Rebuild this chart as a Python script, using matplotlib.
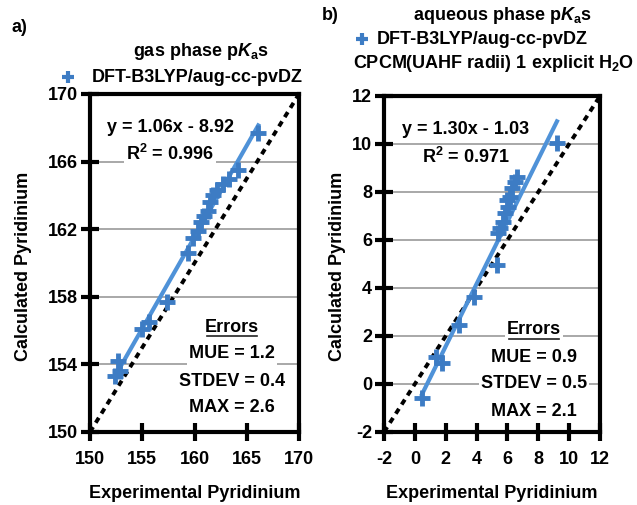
import numpy as np
import matplotlib
matplotlib.use("Agg")
from matplotlib import pyplot as plt

plt.rcParams['font.family'] = ['Liberation Sans', 'DejaVu Sans']
plt.rcParams['font.weight'] = 'bold'
plt.rcParams['axes.unicode_minus'] = False
plt.rcParams['mathtext.fontset'] = 'custom'
plt.rcParams['mathtext.rm'] = 'Liberation Sans:bold'
plt.rcParams['mathtext.it'] = 'Liberation Sans:bold:italic'
plt.rcParams['mathtext.bf'] = 'Liberation Sans:bold'

# panel a: gas phase
exp_a = [152.4, 152.7, 152.9, 155.0, 155.6, 157.4, 159.4, 159.9, 160.3, 160.6,
         160.9, 161.25, 161.5, 161.8, 162.2, 162.7, 163.3, 164.2, 166.1]
calc_a = [153.3, 154.2, 153.6, 156.1, 156.5, 157.7, 160.6, 161.5, 161.9, 162.4,
          162.8, 163.1, 163.6, 164.0, 164.3, 164.7, 165.0, 165.5, 167.7]
err_a = ["MUE = 1.2", "STDEV = 0.4", "MAX = 2.6"]

# panel b: aqueous phase
exp_b = [0.46, 1.37, 1.76, 2.86, 3.83, 5.32, 5.39, 5.52, 5.71, 5.84, 6.04,
         5.97, 6.17, 6.30, 6.49, 6.62, 9.21]
calc_b = [-0.58, 1.13, 0.88, 2.46, 3.63, 4.96, 6.29, 6.50, 6.75, 7.13, 7.38,
          7.67, 7.79, 8.17, 8.42, 8.63, 10.04]
fit_b = (1.30, -1.03)
err_b = ["MUE = 0.9", "STDEV = 0.5", "MAX = 2.1"]

BLUE = '#3d7cc4'
LINEBLUE = '#4f92d8'
W, H = 637, 505
FS = 13

def fx(x):
    return x / W

def fy(y):
    return 1 - y / H

fig = plt.figure(figsize=(W / 100, H / 100), dpi=100)
fig.patch.set_facecolor('white')

box = dict(facecolor='white', edgecolor='none', pad=1.5)


def panel(rect, xs, ys, fit, lim, xticks, yticks, eq, r2, eqpos, errs, errx, erry):
    ax = fig.add_axes(rect)
    ax.set_xlim(lim)
    ax.set_ylim(lim)
    ax.set_xticks(xticks)
    ax.set_yticks(yticks)
    for s in ax.spines.values():
        s.set_linewidth(3)
    ax.tick_params(direction='inout', length=13, width=3, labelsize=FS, pad=2)
    ax.tick_params(axis='x', pad=7)
    ax.yaxis.grid(True, color='#a8a8a8', lw=1.4)
    ax.set_axisbelow(True)
    ax.plot(lim, lim, color='black', lw=2.8, ls=(0, (1.5, 1.3)), zorder=3)
    if fit is None:
        fit = np.polyfit(xs, ys, 1)
    xl = np.array([min(xs), max(xs)])
    ax.plot(xl, fit[0] * xl + fit[1], color=LINEBLUE, lw=3, zorder=4)
    ax.plot(xs, ys, '+', color=BLUE, ms=11, mew=3.5, zorder=5)
    # equation text
    for i, t in enumerate([eq, r2]):
        fig.text(fx(eqpos[0]), fy(eqpos[1] + i * 27), t, ha='center', va='center',
                 fontsize=FS, bbox=box, zorder=10)
    fig.text(fx(errx), fy(erry), 'Errors', ha='center', va='center', fontsize=FS,
             bbox=box, zorder=10)
    fig.add_artist(plt.Line2D([fx(errx - 25), fx(errx + 25)], [fy(erry + 9)] * 2,
                              color='#222222', lw=1.2, zorder=11))
    for i, t in enumerate(errs):
        fig.text(fx(errx), fy(erry + 27 * (i + 1)), t, ha='center', va='center',
                 fontsize=FS, bbox=box, zorder=10)
    return ax


ax1 = panel([fx(90), fy(432), (299 - 90) / W, 338 / H], exp_a, calc_a, None,
            (150, 170), [150, 155, 160, 165, 170], [150, 154, 158, 162, 166, 170],
            'y = 1.06x - 8.92', 'R$^2$ = 0.996', (170, 127), err_a, 232, 327)
ax2 = panel([fx(384), fy(432), 216 / W, 336 / H], exp_b, calc_b, fit_b,
            (-2, 12), list(range(-2, 13, 2)), list(range(-2, 13, 2)),
            'y = 1.30x - 1.03', 'R$^2$ = 0.971', (466, 130), err_b, 534, 330)

# labels
for ax, cx, ylx in [(ax1, 195, 24), (ax2, 492, 337)]:
    fig.text(fx(cx), fy(494), 'Experimental Pyridinium', ha='center', va='center', fontsize=FS)
    fig.text(fx(ylx), fy(266), 'Calculated Pyridinium', ha='center', va='center',
             rotation=90, fontsize=FS)

fig.text(fx(12), fy(28), 'a)', ha='left', va='center', fontsize=FS)
fig.text(fx(322), fy(16), 'b)', ha='left', va='center', fontsize=FS)

pka = r'p$\mathit{K}_\mathrm{a}$s'
fig.text(fx(201), fy(51), 'gas phase ' + pka, ha='center', va='center', fontsize=FS)
fig.text(fx(502), fy(16), 'aqueous phase ' + pka, ha='center', va='center', fontsize=FS)

for mx, tx, ty in [(68, 92, 77), (362, 377, 39)]:
    fig.add_artist(plt.Line2D([fx(mx)], [fy(ty)], marker='+', color=BLUE, ms=8, mew=3))
    fig.text(fx(tx), fy(ty), 'DFT-B3LYP/aug-cc-pvDZ', ha='left', va='center', fontsize=FS)

fig.text(fx(353), fy(64), 'CPCM(UAHF radii) 1 explicit H$_2$O', ha='left', va='center',
         fontsize=FS)

fig.savefig('out.png', dpi=100, facecolor='white')
